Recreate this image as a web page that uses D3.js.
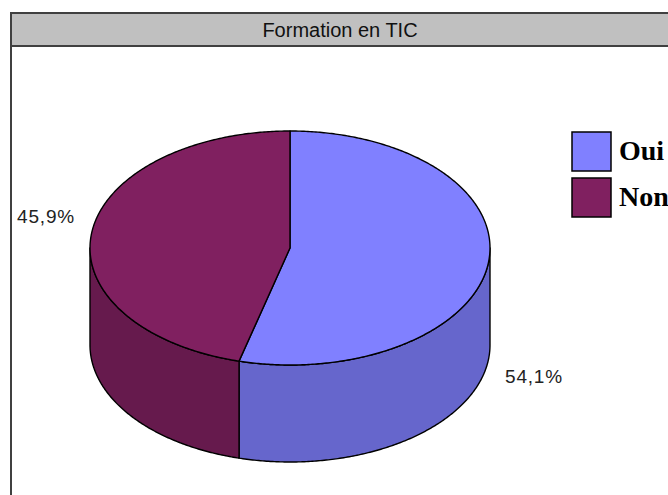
<!DOCTYPE html>
<html>
<head>
<meta charset="utf-8">
<script src="https://cdn.jsdelivr.net/npm/d3@7"></script>
<style>
  body { margin: 0; background: #fff; }
  svg { display: block; }
</style>
</head>
<body>
<div id="chart"></div>
<script>
// data
const labels = ["Oui", "Non"];
const values = [54.1, 45.9];
const valueLabels = ["54,1%", "45,9%"];
const chartTitle = "Formation en TIC";

const W = 668, H = 495;
const topColors = ["#8080ff", "#802060"];
const sideColors = ["#6666cc", "#661a4d"];

// pie geometry
const cx = 290, cy = 248, rx = 200, ry = 117, depth = 97;

const svg = d3.select("#chart").append("svg")
    .attr("width", W)
    .attr("height", H);

// frame + title bar
svg.append("rect")
    .attr("x", 11).attr("y", 13)
    .attr("width", W + 20).attr("height", 33)
    .attr("fill", "#c0c0c0")
    .attr("stroke", "#404040")
    .attr("stroke-width", 2);
svg.append("line")
    .attr("x1", 11).attr("x2", 11)
    .attr("y1", 13).attr("y2", H + 5)
    .attr("stroke", "#404040")
    .attr("stroke-width", 2);
svg.append("text")
    .attr("x", 340).attr("y", 37)
    .attr("text-anchor", "middle")
    .style("font-family", "'Liberation Sans', Arial, sans-serif")
    .style("font-size", "20px")
    .attr("fill", "#111")
    .text(chartTitle);

const pie = d3.pie().sort(null).value(d => d);
const arcs = pie(values);

function pt(a, dy) {
    return [cx + rx * Math.sin(a), cy - ry * Math.cos(a) + (dy || 0)];
}
function arcPts(a0, a1, dy) {
    const n = Math.max(2, Math.ceil(Math.abs(a1 - a0) / 0.01));
    return d3.range(n + 1).map(i => pt(a0 + (a1 - a0) * i / n, dy));
}
const line = d3.line();

const g = svg.append("g");

// side walls (front half only: PI/2 .. 3PI/2)
arcs.forEach((d, i) => {
    const a0 = Math.max(d.startAngle, Math.PI / 2);
    const a1 = Math.min(d.endAngle, 3 * Math.PI / 2);
    if (a1 <= a0) return;
    const pts = arcPts(a0, a1, 0).concat(arcPts(a1, a0, depth));
    g.append("path")
        .attr("d", line(pts) + "Z")
        .attr("fill", sideColors[i])
        .attr("stroke", "#000")
        .attr("stroke-width", 1.4)
        .attr("stroke-linejoin", "round");
});

// tops
arcs.forEach((d, i) => {
    const pts = [[cx, cy]].concat(arcPts(d.startAngle, d.endAngle, 0));
    g.append("path")
        .attr("d", line(pts) + "Z")
        .attr("fill", topColors[i])
        .attr("stroke", "#000")
        .attr("stroke-width", 1.4)
        .attr("stroke-linejoin", "round");
});

// value labels
arcs.forEach((d, i) => {
    const mid = (d.startAngle + d.endAngle) / 2;
    const front = Math.cos(mid) < 0;
    const lx = cx + Math.sin(mid) * (rx + 46);
    const ly = cy - Math.cos(mid) * (ry + 130) + (front ? depth : 0);
    svg.append("text")
        .attr("x", lx).attr("y", ly)
        .attr("text-anchor", "middle")
        .attr("dy", "0.35em")
        .style("font-family", "'Liberation Sans', Arial, sans-serif")
        .style("font-size", "19px")
        .style("letter-spacing", "0.8px")
        .attr("fill", "#222")
        .text(valueLabels[i]);
});

// legend
const legend = svg.append("g").attr("transform", "translate(572,132)");
labels.forEach((l, i) => {
    const row = legend.append("g").attr("transform", `translate(0, ${i * 46})`);
    row.append("rect")
        .attr("width", 39).attr("height", 39)
        .attr("fill", topColors[i])
        .attr("stroke", "#000")
        .attr("stroke-width", 1.5);
    row.append("text")
        .attr("x", 47).attr("y", 28)
        .style("font-family", "'Liberation Serif', 'Times New Roman', serif")
        .style("font-weight", "bold")
        .style("font-size", "28px")
        .attr("fill", "#000")
        .text(l);
});
</script>
</body>
</html>
